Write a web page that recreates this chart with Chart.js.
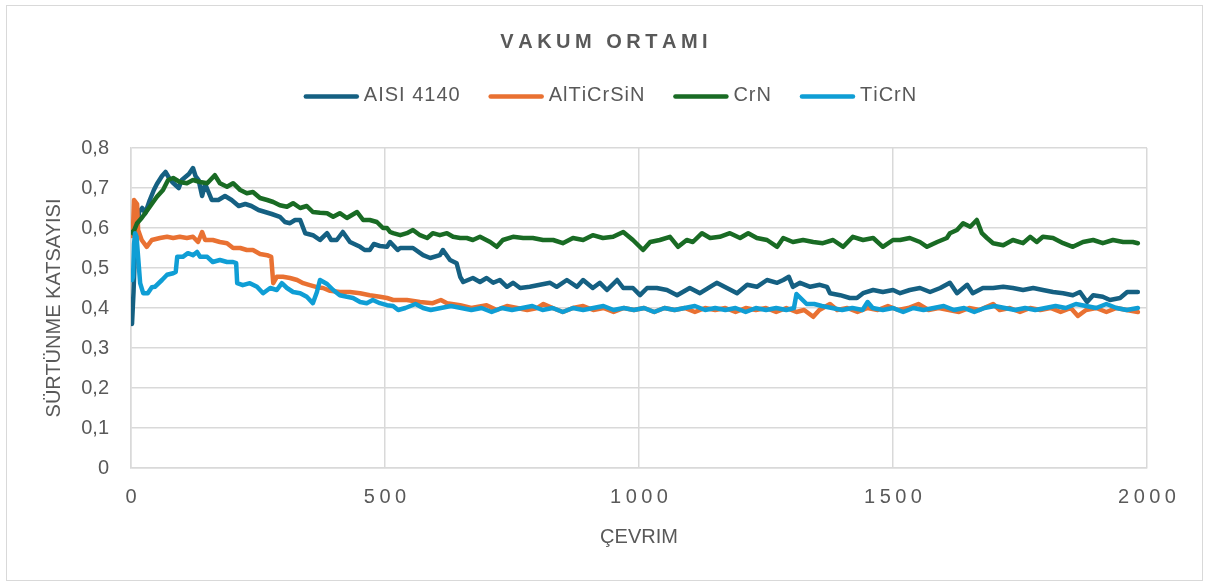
<!DOCTYPE html>
<html lang="tr">
<head>
<meta charset="UTF-8">
<title>Vakum Ortamı</title>
<script src="https://cdn.jsdelivr.net/npm/chart.js@4.4.0/dist/chart.umd.min.js"></script>
<style>
  body { margin: 0; background: #fff; }
  #frame { position: absolute; left: 6px; top: 5px; width: 1195px; height: 574px; border: 1px solid #d9d9d9; }
  #wrap { position: absolute; left: 0; top: 0; width: 1222px; height: 581px; }
</style>
</head>
<body>
<div id="frame"></div>
<div id="wrap"><canvas id="chart" width="1222" height="581"></canvas></div>
<script>
// friction coefficient vs. cycle, [cycle, value]
const aisi4140 = [[2,0.36],[5,0.44],[8,0.55],[12,0.61],[16,0.64],[22,0.65],[28,0.637],[37,0.67],[45,0.695],[51,0.71],[61,0.73],[68,0.74],[75,0.725],[81,0.715],[94,0.70],[100,0.72],[114,0.735],[122,0.75],[127,0.73],[133,0.72],[140,0.68],[146,0.71],[159,0.67],[172,0.67],[185,0.68],[198,0.67],[212,0.655],[225,0.66],[237,0.655],[251,0.645],[264,0.64],[277,0.635],[293,0.628],[303,0.615],[313,0.612],[323,0.62],[333,0.62],[343,0.587],[358,0.582],[372,0.57],[386,0.587],[394,0.57],[405,0.57],[417,0.59],[431,0.565],[451,0.553],[460,0.545],[470,0.545],[478,0.56],[490,0.555],[504,0.553],[510,0.565],[525,0.545],[530,0.55],[555,0.55],[575,0.532],[589,0.525],[608,0.532],[614,0.545],[628,0.52],[641,0.512],[648,0.478],[654,0.465],[673,0.475],[687,0.465],[700,0.475],[713,0.463],[726,0.47],[740,0.453],[752,0.463],[766,0.45],[785,0.453],[805,0.458],[825,0.463],[838,0.453],[858,0.47],[878,0.453],[890,0.47],[909,0.45],[923,0.463],[937,0.445],[957,0.47],[969,0.45],[988,0.45],[1002,0.432],[1016,0.45],[1035,0.45],[1055,0.445],[1075,0.432],[1100,0.45],[1120,0.437],[1140,0.453],[1153,0.463],[1173,0.45],[1193,0.437],[1213,0.458],[1232,0.453],[1252,0.47],[1272,0.463],[1284,0.47],[1295,0.478],[1303,0.453],[1317,0.463],[1337,0.453],[1356,0.458],[1370,0.453],[1376,0.437],[1396,0.432],[1415,0.425],[1429,0.425],[1441,0.437],[1461,0.445],[1480,0.44],[1500,0.445],[1514,0.437],[1533,0.445],[1553,0.45],[1573,0.44],[1593,0.45],[1612,0.463],[1626,0.437],[1646,0.458],[1657,0.437],[1677,0.45],[1697,0.45],[1717,0.453],[1736,0.45],[1756,0.445],[1776,0.45],[1795,0.445],[1815,0.44],[1835,0.437],[1854,0.432],[1868,0.44],[1882,0.415],[1894,0.432],[1913,0.428],[1927,0.42],[1947,0.425],[1961,0.44],[1982,0.44]];

const alTiCrSiN = [[2,0.58],[4,0.60],[6,0.67],[12,0.66],[14,0.595],[21,0.57],[31,0.553],[41,0.57],[57,0.575],[71,0.578],[83,0.575],[96,0.578],[110,0.575],[122,0.578],[132,0.565],[140,0.59],[146,0.57],[161,0.57],[175,0.565],[189,0.562],[201,0.55],[215,0.55],[228,0.545],[240,0.545],[254,0.535],[268,0.532],[276,0.528],[280,0.462],[287,0.478],[299,0.478],[313,0.475],[327,0.47],[339,0.462],[352,0.457],[366,0.452],[378,0.45],[392,0.443],[411,0.44],[431,0.44],[451,0.437],[470,0.432],[490,0.428],[504,0.425],[516,0.42],[543,0.42],[569,0.415],[594,0.412],[610,0.42],[622,0.412],[648,0.407],[670,0.40],[700,0.407],[720,0.395],[740,0.405],[760,0.40],[780,0.395],[800,0.40],[812,0.41],[830,0.40],[850,0.39],[870,0.40],[890,0.405],[910,0.395],[930,0.40],[950,0.39],[970,0.40],[990,0.395],[1010,0.40],[1030,0.39],[1050,0.40],[1070,0.395],[1090,0.40],[1110,0.39],[1130,0.40],[1150,0.395],[1170,0.40],[1190,0.39],[1210,0.40],[1230,0.395],[1250,0.40],[1270,0.39],[1290,0.40],[1310,0.39],[1325,0.395],[1343,0.378],[1355,0.395],[1376,0.41],[1390,0.395],[1410,0.40],[1430,0.39],[1450,0.40],[1470,0.395],[1490,0.405],[1510,0.395],[1530,0.40],[1550,0.41],[1570,0.395],[1590,0.40],[1610,0.395],[1630,0.39],[1650,0.40],[1670,0.395],[1697,0.41],[1710,0.395],[1730,0.40],[1750,0.39],[1770,0.40],[1790,0.395],[1810,0.40],[1830,0.39],[1850,0.40],[1864,0.38],[1880,0.395],[1900,0.40],[1920,0.39],[1940,0.40],[1960,0.395],[1982,0.39]];

const crN = [[2,0.59],[4,0.587],[12,0.612],[21,0.625],[28,0.637],[37,0.653],[51,0.678],[63,0.695],[73,0.72],[83,0.725],[96,0.715],[110,0.712],[122,0.72],[136,0.715],[150,0.712],[165,0.732],[175,0.712],[189,0.703],[201,0.712],[215,0.695],[228,0.687],[240,0.69],[254,0.675],[268,0.67],[280,0.665],[293,0.657],[307,0.653],[319,0.662],[333,0.65],[346,0.655],[358,0.64],[372,0.638],[386,0.637],[398,0.628],[411,0.637],[425,0.625],[445,0.64],[457,0.62],[470,0.62],[484,0.615],[496,0.6],[504,0.6],[510,0.59],[516,0.587],[530,0.582],[543,0.587],[555,0.595],[569,0.582],[583,0.575],[594,0.587],[608,0.582],[622,0.587],[634,0.578],[648,0.575],[661,0.575],[673,0.57],[687,0.578],[707,0.565],[720,0.553],[732,0.57],[752,0.578],[772,0.575],[791,0.575],[811,0.57],[831,0.57],[850,0.562],[870,0.575],[890,0.57],[909,0.582],[929,0.575],[949,0.578],[969,0.59],[988,0.57],[1008,0.545],[1022,0.565],[1041,0.57],[1061,0.578],[1077,0.553],[1094,0.57],[1106,0.565],[1124,0.587],[1140,0.575],[1159,0.578],[1179,0.587],[1199,0.575],[1215,0.587],[1232,0.575],[1252,0.57],[1272,0.553],[1284,0.575],[1303,0.565],[1323,0.57],[1343,0.565],[1362,0.562],[1382,0.57],[1402,0.553],[1421,0.578],[1441,0.57],[1461,0.575],[1480,0.553],[1500,0.57],[1514,0.57],[1533,0.575],[1553,0.565],[1567,0.553],[1587,0.565],[1606,0.575],[1612,0.587],[1626,0.595],[1638,0.612],[1652,0.603],[1665,0.62],[1675,0.587],[1685,0.575],[1697,0.562],[1717,0.557],[1736,0.57],[1756,0.562],[1770,0.578],[1783,0.565],[1795,0.578],[1815,0.575],[1835,0.562],[1854,0.553],[1874,0.565],[1894,0.57],[1913,0.562],[1933,0.57],[1953,0.565],[1972,0.565],[1982,0.562]];

const tiCrN = [[2,0.47],[4,0.478],[6,0.56],[8,0.587],[11,0.578],[14,0.528],[18,0.462],[24,0.437],[33,0.437],[41,0.452],[47,0.453],[61,0.47],[71,0.483],[83,0.487],[88,0.49],[91,0.528],[102,0.528],[112,0.537],[122,0.532],[130,0.54],[136,0.528],[150,0.528],[161,0.515],[175,0.52],[189,0.515],[201,0.515],[207,0.512],[209,0.462],[220,0.457],[234,0.462],[248,0.453],[260,0.437],[274,0.45],[287,0.445],[297,0.462],[307,0.45],[319,0.44],[333,0.437],[346,0.428],[358,0.412],[366,0.44],[372,0.47],[386,0.46],[398,0.445],[411,0.432],[425,0.428],[437,0.425],[451,0.415],[464,0.412],[476,0.42],[490,0.412],[504,0.407],[516,0.405],[526,0.395],[540,0.40],[560,0.41],[575,0.40],[590,0.395],[610,0.40],[630,0.405],[650,0.40],[670,0.395],[690,0.40],[710,0.39],[730,0.40],[750,0.395],[770,0.40],[790,0.405],[810,0.395],[830,0.40],[850,0.39],[870,0.40],[890,0.395],[910,0.40],[930,0.405],[950,0.395],[970,0.40],[990,0.395],[1010,0.40],[1030,0.39],[1050,0.40],[1070,0.395],[1090,0.40],[1110,0.405],[1130,0.395],[1150,0.40],[1170,0.395],[1190,0.40],[1210,0.39],[1230,0.40],[1250,0.395],[1270,0.40],[1290,0.395],[1305,0.40],[1310,0.435],[1318,0.425],[1330,0.41],[1345,0.41],[1360,0.405],[1380,0.40],[1400,0.395],[1420,0.40],[1440,0.395],[1450,0.415],[1460,0.40],[1480,0.395],[1500,0.40],[1520,0.39],[1540,0.40],[1560,0.395],[1580,0.40],[1600,0.405],[1620,0.395],[1640,0.40],[1660,0.39],[1680,0.40],[1700,0.405],[1720,0.40],[1740,0.395],[1760,0.40],[1780,0.395],[1800,0.40],[1820,0.405],[1840,0.40],[1860,0.41],[1880,0.405],[1900,0.40],[1920,0.41],[1940,0.40],[1960,0.395],[1982,0.40]];

const seriesNames = ['AISI 4140', 'AlTiCrSiN', 'CrN', 'TiCrN'];
const seriesColors = ['#156082', '#E97132', '#196B24', '#0F9ED5'];
const chartTitle = 'VAKUM ORTAMI';
const xTitle = 'ÇEVRIM';
const yTitle = 'SÜRTÜNME KATSAYISI';

const FONT = '"Liberation Sans", Arial, sans-serif';
const TEXT = '#595959';
const GRID = '#d9d9d9';

// fillText with extra tracking, centred on cx
function spacedText(ctx, text, cx, cy, gap) {
  const chars = [...text];
  const widths = chars.map(ch => ctx.measureText(ch).width);
  const total = widths.reduce((a, b) => a + b, 0) + gap * (chars.length - 1);
  let x = cx - total / 2;
  ctx.textAlign = 'left';
  chars.forEach((ch, i) => {
    ctx.fillText(ch, x, cy);
    x += widths[i] + gap;
  });
  return total;
}

// title, legend and x tick labels (all tracked out a little)
const chartText = {
  id: 'chartText',
  afterDraw(chart) {
    const ctx = chart.ctx;
    ctx.save();
    ctx.fillStyle = TEXT;
    ctx.textBaseline = 'middle';

    ctx.font = 'bold 20px ' + FONT;
    spacedText(ctx, chartTitle, 604, 42, 4.5);

    // legend row
    ctx.font = '20px ' + FONT;
    const lineLen = 51, track = 1, gapText = 5, gapItem = 29;
    const items = chart.data.datasets.map(ds => {
      const w = [...ds.label].reduce((a, ch) => a + ctx.measureText(ch).width + track, -track);
      return { ds, w };
    });
    const total = items.reduce((a, it) => a + lineLen + 4 + gapText + it.w, 0) + gapItem * (items.length - 1);
    let x = 610 - total / 2;
    const ly = 96.5;
    items.forEach(it => {
      ctx.strokeStyle = it.ds.borderColor;
      ctx.lineWidth = 4.5;
      ctx.lineCap = 'round';
      ctx.beginPath();
      ctx.moveTo(x + 2, ly);
      ctx.lineTo(x + 2 + lineLen, ly);
      ctx.stroke();
      const tx = x + lineLen + 4 + gapText;
      spacedText(ctx, it.ds.label, tx + it.w / 2, ly - 1, track);
      x = tx + it.w + gapItem;
    });

    const xs = chart.scales.x;
    ctx.font = '20px ' + FONT;
    xs.ticks.forEach(t => {
      spacedText(ctx, String(t.value), xs.getPixelForValue(t.value), 497, 4.5);
    });
    ctx.restore();
  }
};

const toPoints = arr => arr.map(([x, y]) => ({ x, y }));
const seriesData = [aisi4140, alTiCrSiN, crN, tiCrN];

new Chart(document.getElementById('chart'), {
  type: 'line',
  data: {
    datasets: seriesData.map((arr, i) => ({
      label: seriesNames[i],
      data: toPoints(arr),
      borderColor: seriesColors[i],
      backgroundColor: seriesColors[i],
      order: seriesData.length - i
    }))
  },
  options: {
    responsive: false,
    animation: false,
    devicePixelRatio: 1,
    layout: { padding: { top: 148, right: 75, bottom: 0, left: 0 } },
    elements: {
      point: { radius: 0 },
      line: { borderWidth: 4.5, tension: 0, borderJoinStyle: 'round', borderCapStyle: 'round' }
    },
    plugins: {
      legend: { display: false },
      title: { display: false },
      tooltip: { enabled: false }
    },
    scales: {
      x: {
        type: 'linear',
        min: 0,
        max: 2000,
        ticks: { stepSize: 500, display: false },
        grid: { color: GRID, lineWidth: 1.5, drawTicks: false },
        border: { color: GRID, width: 1.5 },
        title: {
          display: true, text: xTitle, color: TEXT,
          font: { family: FONT, size: 20 },
          padding: { top: 0, bottom: 32 }
        },
        afterFit: s => { s.height = 113; }
      },
      y: {
        min: 0,
        max: 0.8,
        ticks: {
          stepSize: 0.1,
          padding: 22,
          color: TEXT,
          font: { family: FONT, size: 20 },
          callback: v => v === 0 ? '0' : v.toFixed(1).replace('.', ',')
        },
        grid: { color: GRID, lineWidth: 1.5, drawTicks: false },
        border: { color: GRID, width: 1.5 },
        title: {
          display: true, text: yTitle, color: TEXT,
          font: { family: FONT, size: 20 },
          padding: { top: 42, bottom: 0 }
        },
        afterFit: s => { s.width = 131; }
      }
    }
  },
  plugins: [chartText]
});
</script>
</body>
</html>
